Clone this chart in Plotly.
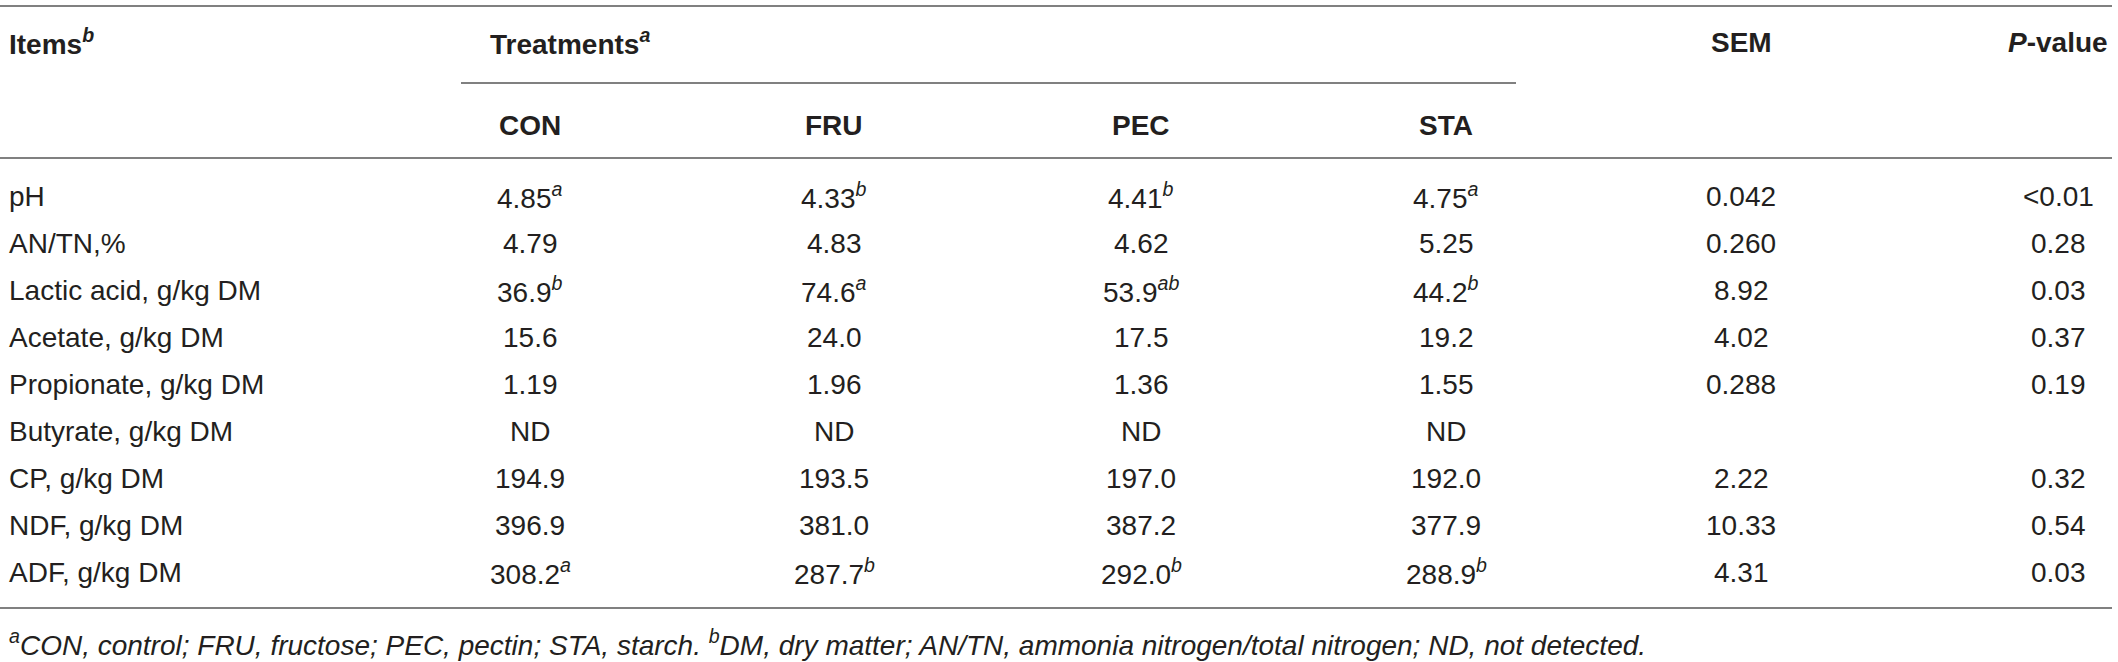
import plotly.graph_objects as go

# Table content
items = ['pH', 'AN/TN,%', 'Lactic acid, g/kg DM', 'Acetate, g/kg DM',
         'Propionate, g/kg DM', 'Butyrate, g/kg DM', 'CP, g/kg DM',
         'NDF, g/kg DM', 'ADF, g/kg DM']
treatments = ['CON', 'FRU', 'PEC', 'STA']

con = ['4.85', '4.79', '36.9', '15.6', '1.19', 'ND', '194.9', '396.9', '308.2']
fru = ['4.33', '4.83', '74.6', '24.0', '1.96', 'ND', '193.5', '381.0', '287.7']
pec = ['4.41', '4.62', '53.9', '17.5', '1.36', 'ND', '197.0', '387.2', '292.0']
sta = ['4.75', '5.25', '44.2', '19.2', '1.55', 'ND', '192.0', '377.9', '288.9']

# significance letters (superscripts)
con_sig = ['a', '', 'b', '', '', '', '', '', 'a']
fru_sig = ['b', '', 'a', '', '', '', '', '', 'b']
pec_sig = ['b', '', 'ab', '', '', '', '', '', 'b']
sta_sig = ['a', '', 'b', '', '', '', '', '', 'b']

sem = ['0.042', '0.260', '8.92', '4.02', '0.288', '', '2.22', '10.33', '4.31']
p_value = ['<0.01', '0.28', '0.03', '0.37', '0.19', '', '0.32', '0.54', '0.03']

footnote = ('<sup>a</sup>CON, control; FRU, fructose; PEC, pectin; STA, starch. '
            '<sup>b</sup>DM, dry matter; AN/TN, ammonia nitrogen/total nitrogen; ND, not detected.')

# Layout (pixels)
W, H = 2118, 662
FONT = 'Liberation Sans, Arial, sans-serif'
TXT = '#231f20'
LINE = '#808080'
SIZE = 28

col_x = [530, 834, 1141, 1446]
sem_x = 1741
p_x = 2058
head_y = 42
sub_y = 125
row0 = 196
row_h = 47

fig = go.Figure()
ann = []


def add_text(x, y, text, anchor='center', size=SIZE):
    ann.append(dict(x=x, y=y, xref='x', yref='y', text=text, showarrow=False,
                    xanchor=anchor, yanchor='middle',
                    font=dict(family=FONT, size=size, color=TXT)))


def cell(val, sig):
    if sig:
        return f'{val}<sup><i>{sig}</i></sup>'
    return val


# header
add_text(7, head_y, '<b>Items<sup><i>b</i></sup></b>', anchor='left')
add_text(488, head_y, '<b>Treatments<sup><i>a</i></sup></b>', anchor='left')
add_text(sem_x, head_y, '<b>SEM</b>')
add_text(p_x, head_y, '<b><i>P</i>-value</b>')
for x, t in zip(col_x, treatments):
    add_text(x, sub_y, f'<b>{t}</b>')

# body
cols = [(con, con_sig), (fru, fru_sig), (pec, pec_sig), (sta, sta_sig)]
for i, name in enumerate(items):
    y = row0 + i * row_h
    add_text(7, y, name, anchor='left')
    for x, (vals, sigs) in zip(col_x, cols):
        add_text(x, y, cell(vals[i], sigs[i]))
    if sem[i]:
        add_text(sem_x, y, sem[i])
    if p_value[i]:
        add_text(p_x, y, p_value[i].replace('<', '&lt;'))

add_text(7, 643, f'<i>{footnote}</i>', anchor='left')

# rules
shapes = []
for y, x0, x1 in [(6, 0, 2112), (83, 461, 1516), (158, 0, 2112), (608, 0, 2112)]:
    shapes.append(dict(type='line', xref='x', yref='y', x0=x0, x1=x1, y0=y, y1=y,
                       line=dict(color=LINE, width=2)))

fig.update_layout(
    width=W, height=H,
    margin=dict(l=0, r=0, t=0, b=0),
    paper_bgcolor='white', plot_bgcolor='white',
    xaxis=dict(range=[0, W], visible=False, fixedrange=True),
    yaxis=dict(range=[H, 0], visible=False, fixedrange=True),
    annotations=ann, shapes=shapes, showlegend=False,
)

fig.write_html('out.html', config={'displayModeBar': False},
               post_script="document.body.style.margin='0';")
